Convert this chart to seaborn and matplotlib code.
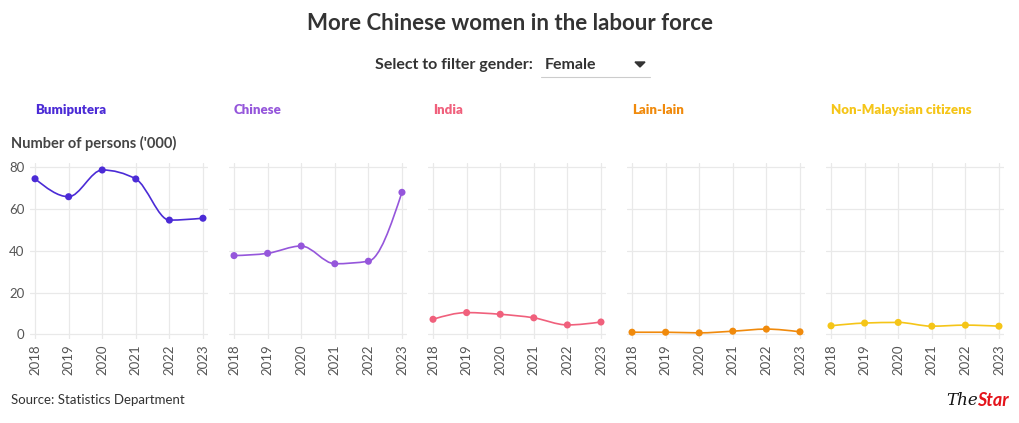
import matplotlib
matplotlib.use("Agg")
import matplotlib.pyplot as plt
from matplotlib.path import Path
from matplotlib.patches import PathPatch
import seaborn as sns
import numpy as np
import pandas as pd

years = [2018, 2019, 2020, 2021, 2022, 2023]
groups = ["Bumiputera", "Chinese", "India", "Lain-lain", "Non-Malaysian citizens"]
bumiputera = [74.5, 65.9, 78.7, 74.4, 54.7, 55.6]
chinese = [37.7, 38.8, 42.3, 33.8, 35.0, 68.0]
india = [7.2, 10.4, 9.6, 7.9, 4.5, 5.9]
lain_lain = [1.0, 1.0, 0.7, 1.5, 2.5, 1.2]
non_malaysian = [4.1, 5.4, 5.7, 3.9, 4.4, 3.9]
colors = ["#4b2bd6", "#9556db", "#f0607c", "#f08a0c", "#f5c518"]
yticks = [0, 20, 40, 60, 80]

values = [bumiputera, chinese, india, lain_lain, non_malaysian]
df = pd.DataFrame({
    "year": years * len(groups),
    "group": [g for g in groups for _ in years],
    "value": [v for s in values for v in s],
})

sns.set_theme(style="white")
plt.rcParams["font.family"] = ["Lato", "DejaVu Sans"]

W, H = 1020, 423
fig = plt.figure(figsize=(W / 100, H / 100), dpi=100)


def monotone_path(x, y):
    # d3 curveMonotoneX style bezier
    x = np.asarray(x, float)
    y = np.asarray(y, float)
    n = len(x)
    h = np.diff(x)
    s = np.diff(y) / h
    t = np.zeros(n)
    for i in range(1, n - 1):
        p = (s[i - 1] * h[i] + s[i] * h[i - 1]) / (h[i - 1] + h[i])
        t[i] = (np.sign(s[i - 1]) + np.sign(s[i])) * min(abs(s[i - 1]), abs(s[i]), 0.5 * abs(p))
    t[0] = (3 * s[0] - t[1]) / 2
    t[-1] = (3 * s[-1] - t[-2]) / 2
    verts = [(x[0], y[0])]
    codes = [Path.MOVETO]
    for i in range(n - 1):
        dx = h[i] / 3
        verts += [(x[i] + dx, y[i] + dx * t[i]), (x[i + 1] - dx, y[i + 1] - dx * t[i + 1]), (x[i + 1], y[i + 1])]
        codes += [Path.CURVE4] * 3
    return Path(verts, codes)


for i, (g, c) in enumerate(zip(groups, colors)):
    left = 30 + 199 * i
    ax = fig.add_axes([left / W, (H - 338.5) / H, 178 / W, (338.5 - 163.1) / H])
    sub = df[df["group"] == g]
    ax.add_patch(PathPatch(monotone_path(sub["year"], sub["value"]), fill=False,
                           edgecolor=c, lw=1.2, zorder=3))
    sns.scatterplot(data=sub, x="year", y="value", color=c, s=26, edgecolor="none",
                    ax=ax, zorder=4, legend=False)
    ax.set_xlim(2017.85, 2023.15)
    ax.set_ylim(-2, 82)
    ax.set_xticks(years)
    ax.set_xticklabels([str(y) for y in years], rotation=90, fontsize=9.5, color="#555555")
    ax.set_yticks(yticks)
    if i == 0:
        ax.set_yticklabels([str(v) for v in yticks], fontsize=9.5, color="#555555")
    else:
        ax.set_yticklabels([])
    ax.tick_params(axis="both", length=0, pad=4)
    ax.grid(True, color="#e9e9e9", lw=0.9)
    ax.set_axisbelow(True)
    for sp in ax.spines.values():
        sp.set_visible(False)
    ax.set_xlabel("")
    ax.set_ylabel("")
    fig.text((35 + 199 * i) / W, 1 - 110 / H, g, color=c, fontsize=9.5, fontweight="heavy",
             ha="left", va="center")

fig.text(510 / W, 1 - 24 / H, "More Chinese women in the labour force", ha="center", va="center",
         fontsize=16, fontweight="bold", color="#333333")
fig.text(533 / W, 1 - 65 / H, "Select to filter gender:", ha="right", va="center",
         fontsize=11.5, fontweight="bold", color="#333333")
fig.text(545 / W, 1 - 65 / H, "Female", ha="left", va="center",
         fontsize=11.5, fontweight="bold", color="#333333")
# dropdown arrow + underline
fig.add_artist(plt.Polygon([[635 / W, 1 - 62 / H], [645 / W, 1 - 62 / H], [640 / W, 1 - 67 / H]],
                           closed=True, color="#333333", transform=fig.transFigure))
fig.add_artist(plt.Line2D([541 / W, 650 / W], [1 - 77.5 / H, 1 - 77.5 / H], color="#cccccc", lw=0.8))
fig.text(11 / W, 1 - 143 / H, "Number of persons ('000)", ha="left", va="center",
         fontsize=10.5, fontweight="bold", color="#444444")
fig.text(11 / W, 1 - 400 / H, "Source: Statistics Department", ha="left", va="center",
         fontsize=9.5, color="#333333")
fig.text(978 / W, 1 - 400 / H, "The", ha="right", va="center", fontsize=12,
         style="italic", color="#111111", family=["DejaVu Serif"])
fig.text(977 / W, 1 - 400 / H, "Star", ha="left", va="center", fontsize=13,
         style="italic", fontweight="bold", color="#e4141b")

fig.savefig("out.png", dpi=100, facecolor="white")
